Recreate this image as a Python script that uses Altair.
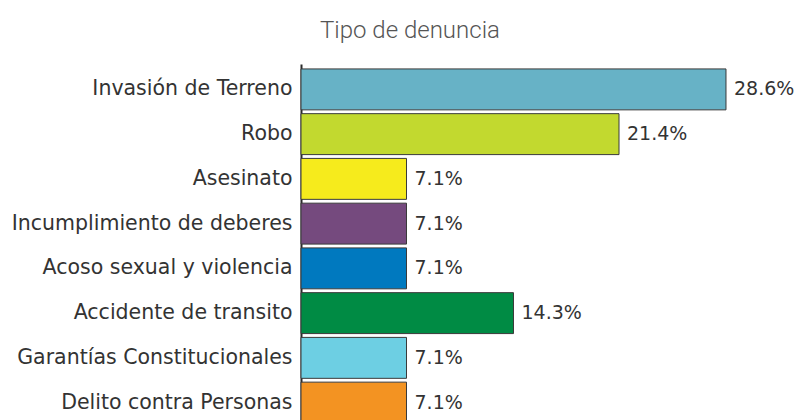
import altair as alt
import pandas as pd

categories = [
    "Invasión de Terreno",
    "Robo",
    "Asesinato",
    "Incumplimiento de deberes",
    "Acoso sexual y violencia",
    "Accidente de transito",
    "Garantías Constitucionales",
    "Delito contra Personas",
]
values = [28.6, 21.4, 7.1, 7.1, 7.1, 14.3, 7.1, 7.1]
value_labels = ["28.6%", "21.4%", "7.1%", "7.1%", "7.1%", "14.3%", "7.1%", "7.1%"]
colors = ["#67B2C6", "#C2D92F", "#F6EB1C", "#754A7E", "#0079BF", "#008B44", "#6DCFE3", "#F39322"]

df = pd.DataFrame({"cat": categories, "val": values, "lbl": value_labels})

W = 495
x_scale = alt.Scale(domain=[0, W / 14.86], nice=False, zero=True)
y_scale = alt.Scale(domain=categories, range=[0, 364], paddingInner=0.085, paddingOuter=0.11)

base = alt.Chart(df)

bars = base.mark_bar(stroke="#3a3a3a", strokeWidth=1).encode(
    x=alt.X("val:Q", scale=x_scale, axis=None),
    y=alt.Y(
        "cat:N",
        scale=y_scale,
        sort=categories,
        axis=alt.Axis(
            title=None,
            ticks=False,
            grid=False,
            domain=True,
            domainColor="#2b2b2b",
            domainWidth=2,
            labelFont="DejaVu Sans",
            labelFontSize=20.5,
            labelColor="#333333",
            labelPadding=9,
            labelLimit=400,
        ),
    ),
    color=alt.Color("cat:N", scale=alt.Scale(domain=categories, range=colors), legend=None),
)

texts = base.mark_text(
    align="left", baseline="middle", dx=8, font="DejaVu Sans", fontSize=19, color="#333333"
).encode(
    x=alt.X("val:Q", scale=x_scale),
    y=alt.Y("cat:N", scale=y_scale, sort=categories),
    text="lbl:N",
)

chart = (
    alt.layer(bars, texts)
    .properties(
        width=W,
        height=356,
        title=alt.TitleParams(
            "Tipo de denuncia",
            font="Roboto",
            fontSize=24,
            fontWeight=300,
            color="#555555",
            anchor="start",
            frame="group",
            dx=19,
            offset=2,
            baseline="alphabetic",
        ),
        autosize=alt.AutoSizeParams(type="none"),
        padding={"left": 293, "top": 56, "right": 0, "bottom": 0},
    )
    .configure_view(stroke=None)
)

chart.save("out.html", embed_options={"renderer": "svg", "actions": False})
